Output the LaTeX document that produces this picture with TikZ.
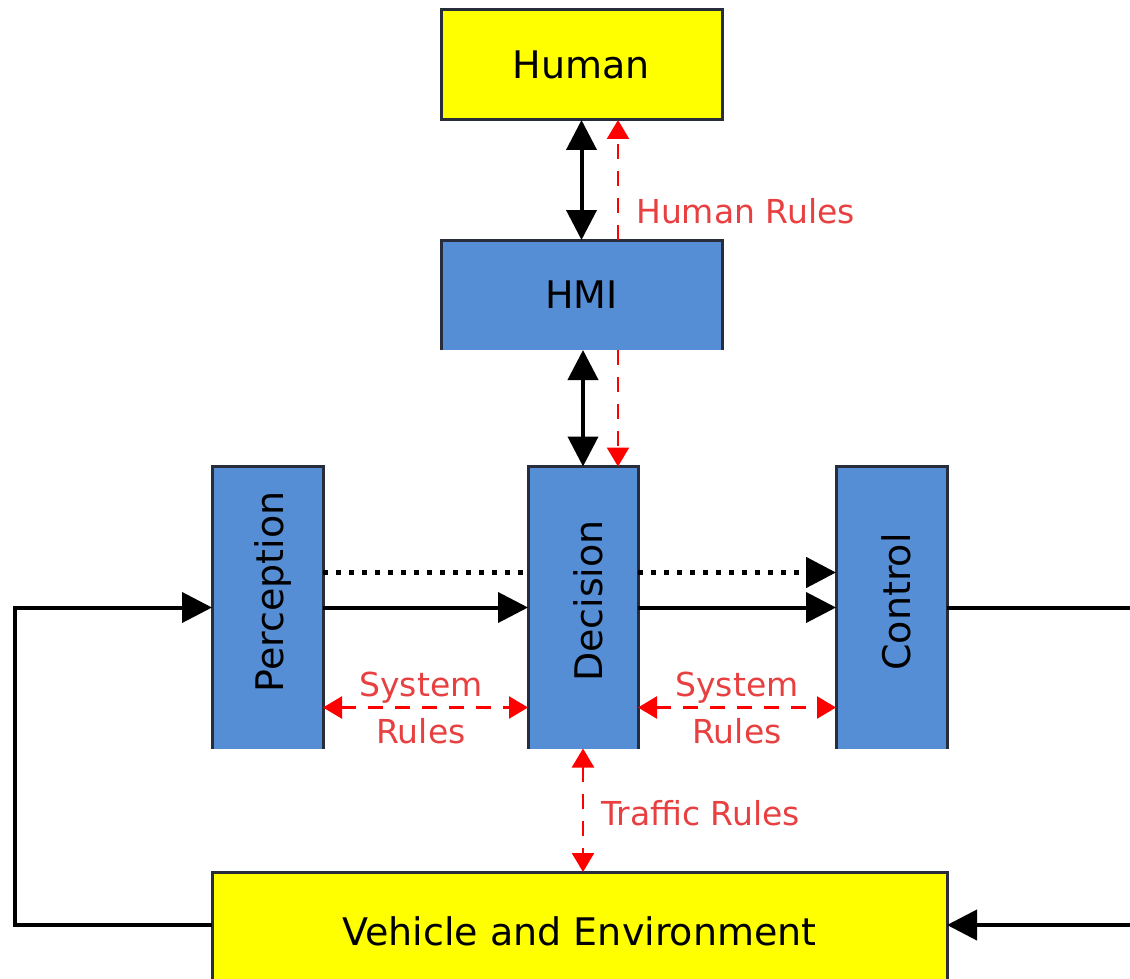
\documentclass[tikz,border=0pt]{standalone}
\usepackage{fontspec}
\setmainfont{DejaVu Sans}
\usepackage{graphicx}
\usetikzlibrary{arrows.meta}
\definecolor{boxblue}{RGB}{85,142,213}
\definecolor{boxyellow}{RGB}{255,255,0}
\definecolor{ruletext}{RGB}{232,64,64}
\definecolor{edgecol}{RGB}{40,45,60}
\begin{document}
\begin{tikzpicture}[x=1pt,y=-1pt,
  base/.style={inner sep=0pt, outer sep=0pt, font=\fontsize{38}{44}\selectfont},
  yel/.style={base, fill=boxyellow},
  blu/.style={base, fill=boxblue},
  edge3/.style={draw=edgecol, line width=3pt},
  blk/.style={line width=4pt, black},
  dotl/.style={line width=5pt, black, dash pattern=on 5pt off 8pt},
  rdash/.style={line width=2.5pt, red, dash pattern=on 15pt off 12pt},
  rtext/.style={inner sep=0pt, text=ruletext, font=\fontsize{33}{47}\selectfont},
  BigT/.tip={Triangle[length=30pt,width=30pt]},
  RedT/.tip={Triangle[length=19pt,width=22pt]}
]
\useasboundingbox (0,0) rectangle (1130,979);

% boxes
\node[yel, minimum width=281pt, minimum height=110pt] (hum) at (581.5,65) {Human};
\node[blu, minimum width=281pt, minimum height=110pt] (hmi) at (581.5,295) {HMI};
\node[blu, minimum width=111pt, minimum height=282pt] (per) at (267.5,607.5) {};
\node[blu, minimum width=110pt, minimum height=282pt] (dec) at (583,607.5) {};
\node[blu, minimum width=111pt, minimum height=282pt] (ctl) at (891.5,607.5) {};
\node[yel, minimum width=735pt, minimum height=118pt] (veh) at (579.5,931) {Vehicle and Environment};

% rotated labels
\node[base, rotate=90] (pertxt) at (273,592) {Perception};
\node[base, rotate=90] (dectxt) at (588,601) {Decision};
\node[base, rotate=90] (ctltxt) at (896,602) {Control};

% borders
\draw[edge3] (hum.south west) rectangle (hum.north east);
\foreach \b in {hmi,per,dec,ctl,veh}{
  \draw[edge3] (\b.south west) -- (\b.north west) -- (\b.north east) -- (\b.south east);
}

% Human <-> HMI
\draw[blk, {BigT}-{BigT}] (hum.south) -- (hmi.north);
\draw[rdash, -{RedT}] ([xshift=36.5pt]hmi.north) -- ([xshift=36.5pt]hum.south);
\node[rtext, anchor=west] (hrules) at (636,211) {Human Rules};

% HMI <-> Decision
\draw[blk, {BigT}-{BigT}] ([xshift=1.5pt]hmi.south) -- (dec.north);
\draw[rdash, -{RedT}] ([xshift=36.5pt]hmi.south) -- ([xshift=35pt]dec.north);

% Perception -> Decision -> Control
\draw[dotl] ([yshift=35pt]per.east) -- ([yshift=35pt]dec.west);
\draw[dotl, -{BigT}] ([yshift=35pt]dec.east) -- ([yshift=35pt]ctl.west);
\draw[blk, -{BigT}] (per.east) -- (dec.west);
\draw[blk, -{BigT}] (dec.east) -- (ctl.west);

% system rules
\draw[rdash, {RedT}-{RedT}] ([yshift=-100pt]per.east) -- ([yshift=-100pt]dec.west);
\draw[rdash, {RedT}-{RedT}] ([yshift=-100pt]dec.east) -- ([yshift=-100pt]ctl.west);
\node[rtext, align=center] (sr1) at (421,708) {System\\Rules};
\node[rtext, align=center] (sr2) at (737,708) {System\\Rules};

% traffic rules
\draw[rdash, {RedT}-{RedT}] (dec.south) -- (dec.south |- veh.north);
\node[rtext, anchor=west] (trules) at (601,813) {Traffic Rules};

% feedback
\coordinate (fbL) at (15,925);
\coordinate (rout) at (1135,607.5);
\coordinate (rin) at (1135,925);
\draw[blk, -{BigT}] (veh.west |- fbL) -- (fbL) |- (per.west);
\draw[blk] (ctl.east) -- (rout);
\draw[blk, -{BigT}] (rin) -- (rin -| veh.east);
\end{tikzpicture}
\end{document}
